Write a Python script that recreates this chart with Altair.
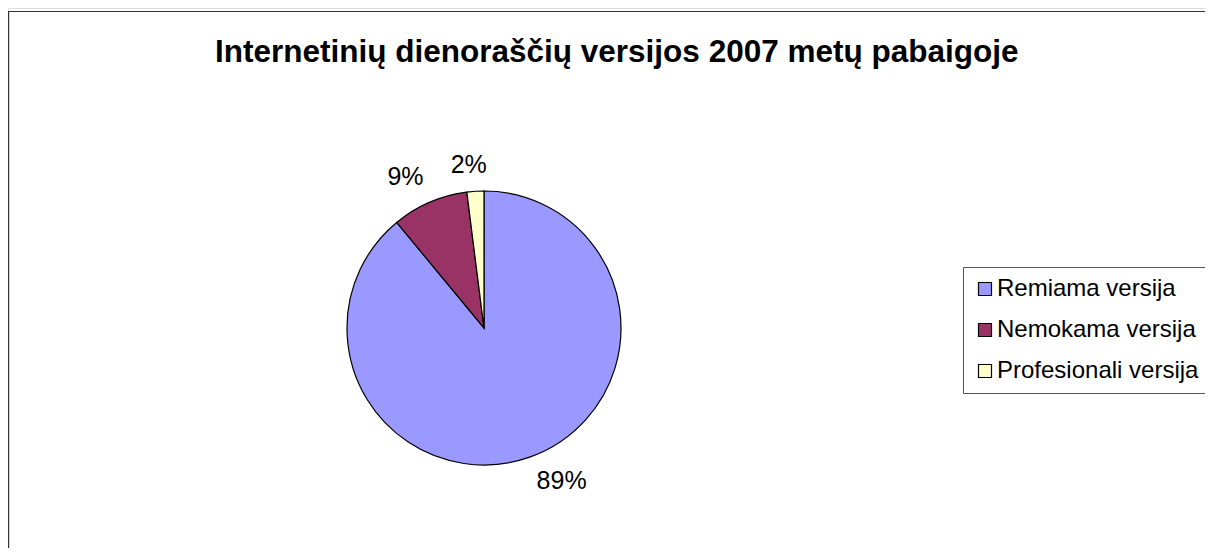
import altair as alt
import pandas as pd

TITLE = "Internetinių dienoraščių versijos 2007 metų pabaigoje"
categories = ["Remiama versija", "Nemokama versija", "Profesionali versija"]
values = [89, 9, 2]
labels = ["89%", "9%", "2%"]
colors = ["#9999FF", "#993366", "#FFFFCC"]

df = pd.DataFrame({
    "cat": categories,
    "value": values,
    "label": labels,
    "idx": list(range(len(categories))),
})

FONT = "Liberation Sans"
CX, CY, R = 476, 320, 137

base = alt.Chart(df)

theta = alt.Theta("value:Q", stack=True)
order = alt.Order("idx:Q", sort="ascending")

arcs = base.mark_arc(radius=R, stroke="black", strokeWidth=1.2).encode(
    theta=theta,
    order=order,
    x=alt.value(CX),
    y=alt.value(CY),
    color=alt.Color(
        "cat:N",
        scale=alt.Scale(domain=categories, range=colors),
        legend=alt.Legend(
            orient="none",
            legendX=955,
            legendY=259,
            title=None,
            symbolType="square",
            symbolSize=169,
            symbolStrokeColor="black",
            symbolStrokeWidth=1.2,
            labelFont=FONT,
            labelFontSize=24,
            labelColor="black",
            labelLimit=0,
            labelOffset=0,
            rowPadding=17,
            padding=10,
            strokeColor="#555555",
            fillColor="white",
        ),
    ),
)


def label_layer(cat, radius, dx, dy):
    return base.mark_text(
        radius=radius, dx=dx, dy=dy, font=FONT, fontSize=25, color="black",
        align="center", baseline="middle",
    ).encode(
        theta=theta,
        order=order,
        detail="cat:N",
        x=alt.value(CX),
        y=alt.value(CY),
        text=alt.condition(f"datum.cat == '{cat}'", "label:N", alt.value("")),
    )


lab1 = label_layer(categories[0], 170, 20, -7)
lab2 = label_layer(categories[1], 170, -11, 5)
lab3 = label_layer(categories[2], 163, -5, 0)

title = alt.Chart(alt.InlineData(values=[{"t": TITLE}])).mark_text(
    font=FONT, fontSize=31.5, fontWeight="bold", align="left",
    baseline="alphabetic", color="black",
).encode(text="t:N", x=alt.value(207), y=alt.value(54))

one = alt.InlineData(values=[{"a": 1}])
border_left = alt.Chart(one).mark_rule(color="#333333", strokeWidth=1.2).encode(
    x=alt.value(0.6), y=alt.value(3.5), y2=alt.value(700))
border_top = alt.Chart(one).mark_rule(color="#333333", strokeWidth=1.2).encode(
    x=alt.value(0), x2=alt.value(1300), y=alt.value(3.5))

chart = alt.layer(border_left, border_top, arcs, lab1, lab2, lab3, title).properties(
    width=1197, height=540, autosize=alt.AutoSizeParams(type="none"),
    padding=0,
).configure_view(stroke=None).configure(background="white")

chart.save("out.html", embed_options={"renderer": "svg", "actions": False})
